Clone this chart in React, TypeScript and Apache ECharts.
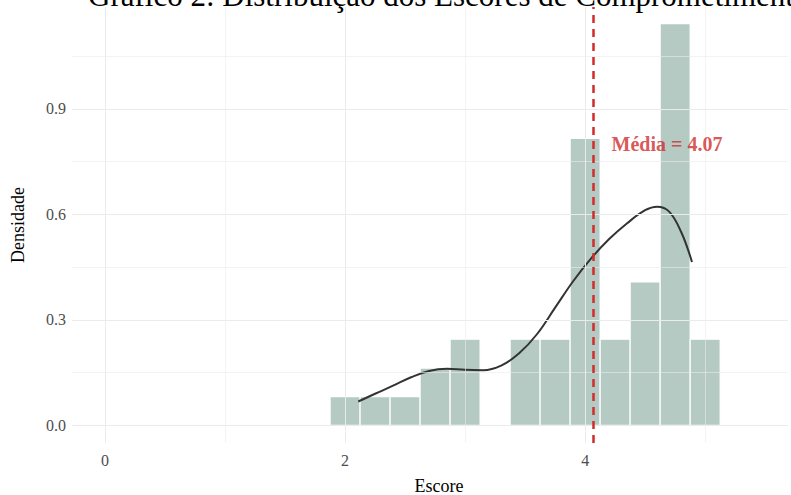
import React, { useEffect, useRef } from "react";
import * as echarts from "echarts";

// ---- data ----
const binCenters = [2, 2.25, 2.5, 2.75, 3, 3.25, 3.5, 3.75, 4, 4.25, 4.5, 4.75, 5];
const densities = [0.082, 0.082, 0.082, 0.163, 0.245, 0, 0.245, 0.245, 0.816, 0.245, 0.408, 1.143, 0.245];
const BIN_WIDTH = 0.25;

const kdeX = [2.11, 2.25, 2.4, 2.55, 2.7, 2.85, 3.0, 3.15, 3.3, 3.45, 3.6, 3.75, 3.9, 4.05, 4.2, 4.35, 4.5, 4.6, 4.7, 4.8, 4.89];
const kdeY = [0.068, 0.09, 0.113, 0.137, 0.155, 0.161, 0.158, 0.157, 0.17, 0.205, 0.26, 0.335, 0.41, 0.475, 0.53, 0.575, 0.612, 0.622, 0.608, 0.55, 0.465];

const MEAN = 4.07;
const meanLabel = "Média = 4.07";
const meanLabelPos = [4.22, 0.8];

const xTickLabels = [0, 2, 4];
const yTickLabels = [0, 0.3, 0.6, 0.9];
const xGridMajor = [0, 2, 4];
const xGridMinor = [1, 3, 5];
const yGridMajor = [0, 0.3, 0.6, 0.9];
const yGridMinor = [0.15, 0.45, 0.75, 1.05];

const titleText = "Gráfico 2: Distribuição dos Escores de Comprometimento";
const xTitle = "Escore";
const yTitle = "Densidade";

const FONT = "'Liberation Serif', 'Times New Roman', serif";
const GRID_COLOR = "#ebebeb";
const BAR_COLOR = "#b4cac2";
const RED = "#cf2c2c";

export default function App() {
  const ref = useRef<HTMLDivElement>(null);

  useEffect(() => {
    if (!ref.current) return;
    const chart = echarts.init(ref.current, undefined, { renderer: "svg" });

    const gridLines = [
      ...yGridMajor.map((v) => ({ yAxis: v, lineStyle: { width: 1 } })),
      ...yGridMinor.map((v) => ({ yAxis: v, lineStyle: { width: 0.6 } })),
      ...xGridMajor.map((v) => ({ xAxis: v, lineStyle: { width: 1 } })),
      ...xGridMinor.map((v) => ({ xAxis: v, lineStyle: { width: 0.6 } })),
    ];

    const near = (a: number, b: number) => Math.abs(a - b) < 1e-6;

    const option: any = {
      animation: false,
      grid: { left: 72, right: 0, top: 7, bottom: 52, containLabel: false },
      xAxis: {
        type: "value",
        min: -0.275,
        max: 5.69,
        interval: 0.025,
        axisLine: { show: false },
        axisTick: { show: false },
        splitLine: { show: false },
        axisLabel: {
          margin: 9,
          color: "#4d4d4d",
          fontFamily: FONT,
          fontSize: 16,
          showMinLabel: true,
          showMaxLabel: true,
          formatter: (v: number) => {
            const t = xTickLabels.find((x) => near(x, v));
            return t === undefined ? "" : String(t);
          },
        },
      },
      yAxis: {
        type: "value",
        min: -0.05,
        max: 1.19,
        interval: 0.05,
        axisLine: { show: false },
        axisTick: { show: false },
        splitLine: { show: false },
        axisLabel: {
          margin: 6,
          color: "#4d4d4d",
          fontFamily: FONT,
          fontSize: 16,
          formatter: (v: number) => {
            const t = yTickLabels.find((x) => near(x, v));
            return t === undefined ? "" : t.toFixed(1);
          },
        },
      },
      series: [
        {
          type: "line",
          data: [],
          z: 1,
          silent: true,
          markLine: {
            silent: true,
            symbol: ["none", "none"],
            label: { show: false },
            lineStyle: { color: GRID_COLOR, type: "solid" },
            emphasis: { disabled: true },
            data: gridLines,
          },
        },
        {
          type: "custom",
          z: 3,
          silent: true,
          data: binCenters.map((c, i) => [c, densities[i]]),
          renderItem: (params: any, api: any) => {
            const c = api.value(0);
            const d = api.value(1);
            if (!d) return null;
            const p0 = api.coord([c - BIN_WIDTH / 2, 0]);
            const p1 = api.coord([c + BIN_WIDTH / 2, d]);
            return {
              type: "rect",
              shape: { x: p0[0], y: p1[1], width: p1[0] - p0[0], height: p0[1] - p1[1] },
              style: { fill: BAR_COLOR, stroke: "#ffffff", lineWidth: 1.2 },
            };
          },
        },
        {
          type: "line",
          z: 4,
          silent: true,
          data: kdeX.map((x, i) => [x, kdeY[i]]),
          smooth: 0.4,
          showSymbol: false,
          lineStyle: { color: "#333333", width: 2 },
        },
        {
          type: "line",
          data: [],
          z: 5,
          silent: true,
          markLine: {
            silent: true,
            symbol: ["none", "none"],
            label: { show: false },
            emphasis: { disabled: true },
            lineStyle: { color: RED, type: [8, 6], width: 2.5 },
            data: [{ xAxis: MEAN }],
          },
        },
        {
          type: "scatter",
          z: 6,
          silent: true,
          symbolSize: 0,
          data: [meanLabelPos],
          label: {
            show: true,
            position: "right",
            distance: 0,
            formatter: meanLabel,
            color: RED,
            fontWeight: "bold",
            fontFamily: FONT,
            fontSize: 20,
          },
        },
      ],
      graphic: [
        {
          type: "text",
          left: 88,
          top: -20,
          style: {
            text: titleText,
            font: `31px ${FONT}`,
            fill: "#000000",
          },
        },
        {
          type: "text",
          x: 439,
          y: 486,
          style: {
            text: xTitle,
            font: `18px ${FONT}`,
            fill: "#000000",
            align: "center",
            verticalAlign: "middle",
          },
        },
        {
          type: "text",
          x: 18,
          y: 225,
          rotation: Math.PI / 2,
          style: {
            text: yTitle,
            font: `18px ${FONT}`,
            fill: "#000000",
            align: "center",
            verticalAlign: "middle",
          },
        },
      ],
    };

    chart.setOption(option);
    return () => chart.dispose();
  }, []);

  return (
    <div
      ref={ref}
      style={{ position: "absolute", left: 0, top: 0, width: 791, height: 495, background: "#ffffff" }}
    />
  );
}
